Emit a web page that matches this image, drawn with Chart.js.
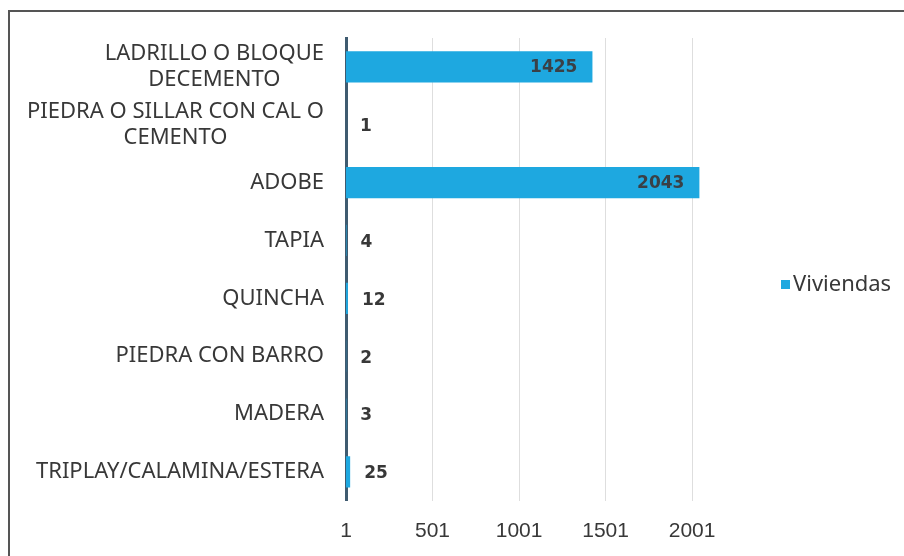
<!DOCTYPE html>
<html>
<head>
<meta charset="utf-8">
<script src="https://cdn.jsdelivr.net/npm/chart.js@4/dist/chart.umd.min.js"></script>
<style>
    body { margin: 0; background: #fff; }
    #wrap { position: relative; width: 904px; height: 556px; overflow: hidden; }
    #frame { position: absolute; left: 8px; top: 10px; width: 940px; height: 600px; border: 2px solid #555; box-sizing: border-box; }
    canvas { position: absolute; left: 0; top: 0; }
</style>
</head>
<body>
<div id="wrap">
    <div id="frame"></div>
    <canvas id="chart" width="904" height="556"></canvas>
</div>
<script>
// Chart data
const categories = [
    ['LADRILLO O BLOQUE', 'DECEMENTO'],
    ['PIEDRA O SILLAR CON CAL O', 'CEMENTO'],
    'ADOBE',
    'TAPIA',
    'QUINCHA',
    'PIEDRA CON BARRO',
    'MADERA',
    'TRIPLAY/CALAMINA/ESTERA'
];
const viviendas = [1425, 1, 2043, 4, 12, 2, 3, 25];
const xTicks = [1, 501, 1001, 1501, 2001];
const seriesName = 'Viviendas';

const barColor = '#1ea8e0';
const textColor = '#383838';

// Category labels: lines centred on each other, block right-aligned to the axis
const categoryLabels = {
    id: 'categoryLabels',
    afterDraw(chart) {
        const ctx = chart.ctx;
        const y = chart.scales.y;
        const right = 324;
        const lineH = 26;
        ctx.save();
        ctx.font = '22px "Noto Sans"';
        ctx.fillStyle = textColor;
        ctx.textAlign = 'center';
        ctx.textBaseline = 'middle';
        categories.forEach((label, i) => {
            const lines = Array.isArray(label) ? label : [label];
            const w = Math.max(...lines.map(l => ctx.measureText(l).width));
            const cx = right - w / 2;
            const cy = y.getPixelForTick(i);
            const top = cy - (lines.length - 1) * lineH / 2;
            lines.forEach((l, j) => ctx.fillText(l, cx, top + j * lineH));
        });
        ctx.restore();
    }
};

// Value labels: inside end for long bars, just past the end for short ones
const valueLabels = {
    id: 'valueLabels',
    afterDatasetsDraw(chart) {
        const ctx = chart.ctx;
        const bars = chart.getDatasetMeta(0).data;
        ctx.save();
        ctx.textBaseline = 'middle';
        ctx.font = 'bold 17px "DejaVu Sans"';
        bars.forEach((bar, i) => {
            const v = viviendas[i];
            if (v > 500) {
                ctx.textAlign = 'right';
                ctx.fillStyle = '#3a4046';
                ctx.fillText(v, bar.x - 15, bar.y + 1);
            } else {
                ctx.textAlign = 'left';
                ctx.fillStyle = textColor;
                ctx.fillText(v, Math.max(bar.x, bar.base) + 14, bar.y + 2);
            }
        });
        ctx.restore();
    }
};

// Legend on the right, drawn by hand so the plot keeps its width
const sideLegend = {
    id: 'sideLegend',
    afterDraw(chart) {
        const ctx = chart.ctx;
        ctx.save();
        ctx.fillStyle = barColor;
        ctx.fillRect(781, 280, 9, 9);
        ctx.font = '22px "Noto Sans"';
        ctx.fillStyle = textColor;
        ctx.textAlign = 'left';
        ctx.textBaseline = 'middle';
        ctx.fillText(seriesName, 793, 285);
        ctx.restore();
    }
};

new Chart(document.getElementById('chart'), {
    type: 'bar',
    data: {
        labels: categories,
        datasets: [{
            label: seriesName,
            data: viviendas,
            backgroundColor: barColor,
            borderWidth: 0,
            barPercentage: 0.54,
            categoryPercentage: 1
        }]
    },
    options: {
        indexAxis: 'y',
        responsive: false,
        animation: false,
        layout: { padding: { top: 38, bottom: -6, left: 0, right: 134 } },
        plugins: {
            tooltip: { enabled: false },
            legend: { display: false }
        },
        scales: {
            x: {
                min: 1,
                max: 2451,
                afterBuildTicks(scale) {
                    scale.ticks = xTicks.map(v => ({ value: v }));
                },
                border: { display: false },
                grid: { color: '#dedede', lineWidth: 1, drawTicks: false },
                ticks: {
                    color: textColor,
                    font: { family: '"Liberation Sans"', size: 21 },
                    padding: 18,
                    maxRotation: 0,
                    callback: v => String(v)
                }
            },
            y: {
                afterFit(scale) { scale.width = 346; },
                border: { display: true, color: '#3f5b70', width: 3 },
                grid: { display: false, drawTicks: false },
                ticks: { display: false }
            }
        }
    },
    plugins: [categoryLabels, valueLabels, sideLegend]
});
</script>
</body>
</html>
